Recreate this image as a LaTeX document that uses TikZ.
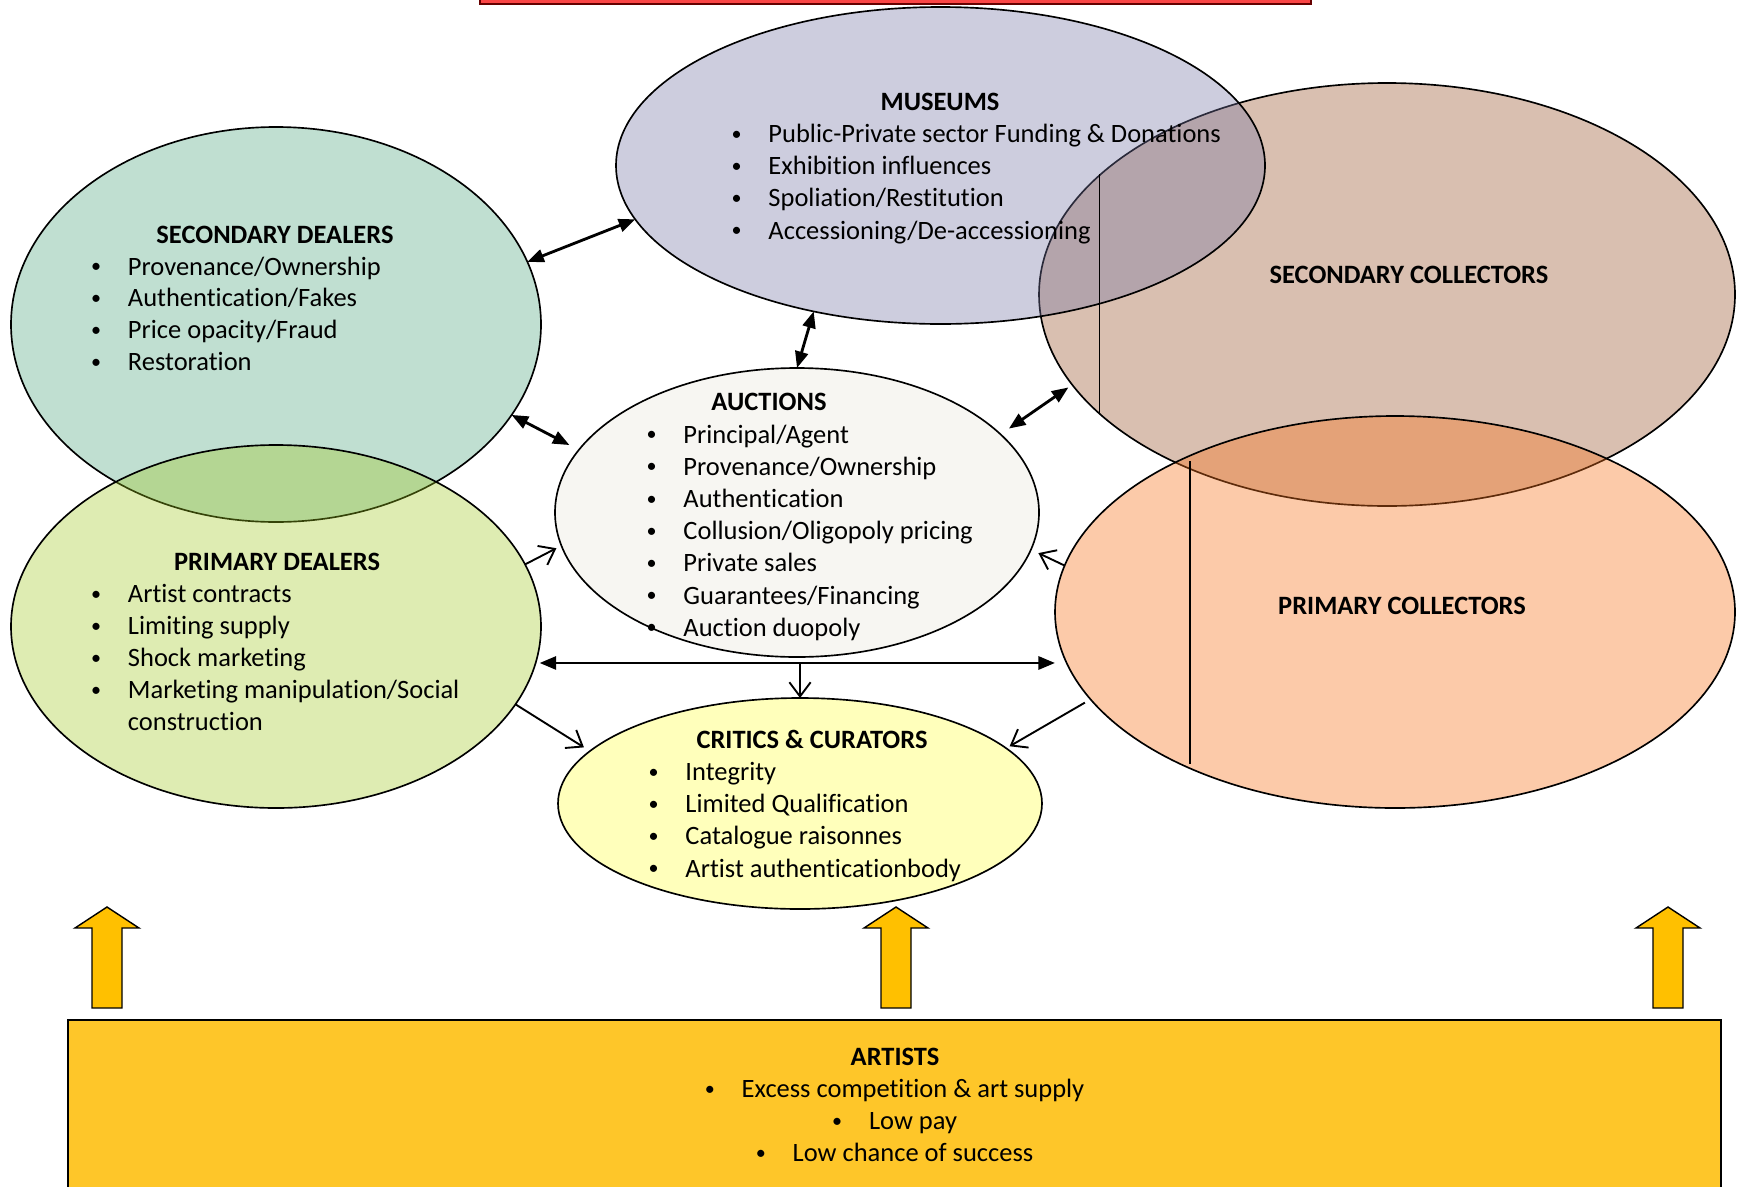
\documentclass[tikz,border=0pt]{standalone}
\usepackage{fontspec}
\setmainfont{Carlito}[Ligatures=NoCommon]
\usetikzlibrary{shapes.geometric,arrows.meta}
\definecolor{muscol}{RGB}{117,117,163}
\definecolor{scolcol}{RGB}{217,191,176}
\definecolor{pcolcol}{RGB}{247,115,29}
\definecolor{sdealcol}{RGB}{192,223,209}
\definecolor{pdealcol}{RGB}{158,199,29}
\definecolor{auccol}{RGB}{247,246,242}
\definecolor{critcol}{RGB}{255,255,187}
\definecolor{artcol}{RGB}{254,198,41}
\definecolor{upcol}{RGB}{255,192,0}
\definecolor{boxred}{RGB}{250,70,70}
\newcommand{\txtsize}{\fontsize{11.2pt}{13.6pt}\selectfont}
\newcommand{\itm}{\llap{\makebox[0pt]{\raisebox{1pt}{\fontsize{8.5pt}{8.5pt}\selectfont\textbullet}}\hspace{13.5pt}}}

\tikzset{
  oval/.style 2 args={ellipse, draw, line width=0.7pt, inner sep=0pt, outer sep=0pt,
    minimum width={#1*0.846pt}, minimum height={#2*0.846pt}},
  head/.style={anchor=base, inner sep=0pt, font=\txtsize\bfseries},
  item/.style={anchor=base west, inner sep=0pt, font=\txtsize},
  dbl/.style={{Triangle[length=7pt,width=5.5pt]}-{Triangle[length=7pt,width=5.5pt]}, line width=1.2pt},
  one/.style={-{Straight Barb[length=6pt,width=9pt]}, line width=0.8pt}
}

\begin{document}
\begin{tikzpicture}[x=0.423pt, y=-0.423pt]
\useasboundingbox (0,0) rectangle (1743,1186);

% the ovals
\node[oval={348}{211.5}, fill=scolcol] (scol) at (1387,294.5) {};
\node[oval={265}{197.5}, fill=sdealcol] (sdeal) at (276,324.5) {};
\node[oval={324.5}{158.5}, fill=muscol, fill opacity=0.36] (mus) at (940.5,165.5) {};
\node[oval={340}{196}, fill=pcolcol, fill opacity=0.38] (pcol) at (1395,612) {};
\node[oval={265}{181.5}, fill=pdealcol, fill opacity=0.34] (pdeal) at (276,626.5) {};
\node[oval={242}{144.5}, fill=auccol] (auc) at (797,512.5) {};
\node[oval={242}{105.5}, fill=critcol] (crit) at (800,803.5) {};

\draw[line width=0.8pt] (1099.5,174) -- (1099.5,413);
\draw[line width=0.8pt] (1190,461) -- (1190,764);

\node[head] (musT) at (940,110) {MUSEUMS};
\foreach \t [count=\k from 0] in {Public-Private sector Funding \& Donations, Exhibition influences, Spoliation/Restitution, Accessioning/De-accessioning}
  \node[item] (mus\k) at (768,{142.5+32.2*\k}) {\itm\t};

\node[head] (sdealT) at (275,243.3) {SECONDARY DEALERS};
\foreach \t [count=\k from 0] in {Provenance/Ownership, Authentication/Fakes, Price opacity/Fraud, Restoration}
  \node[item] (sdeal\k) at (127.5,{275+31.8*\k}) {\itm\t};

\node[head] (pdealT) at (277,570.5) {PRIMARY DEALERS};
\foreach \t [count=\k from 0] in {Artist contracts, Limiting supply, Shock marketing, Marketing manipulation/Social}
  \node[item] (pdeal\k) at (127.5,{602.5+32*\k}) {\itm\t};
\node[item] (pdeal4) at (127.5,730.5) {construction};

\node[head] (aucT) at (769,410.5) {AUCTIONS};
\foreach \t [count=\k from 0] in {Principal/Agent, Provenance/Ownership, Authentication, Collusion/Oligopoly pricing, Private sales, Guarantees/Financing, Auction duopoly}
  \node[item] (auc\k) at (683,{443+32.2*\k}) {\itm\t};

\node[head] (critT) at (812,748) {CRITICS \& CURATORS};
\foreach \t [count=\k from 0] in {Integrity, Limited Qualification, Catalogue raisonnes, Artist authenticationbody}
  \node[item] (crit\k) at (685,{780.5+32.2*\k}) {\itm\t};

\node[head] (scolT) at (1409,283.5) {SECONDARY COLLECTORS};
\node[head] (pcolT) at (1402,614.5) {PRIMARY COLLECTORS};

% artists box and the up arrows
\draw[fill=artcol, line width=1pt] (68,1020) rectangle (1721,1210);
\node[head] (artT) at (895,1065) {ARTISTS};
\foreach \t [count=\k from 0] in {Excess competition \& art supply, Low pay, Low chance of success}
  \node[anchor=base, inner sep=0pt, font=\txtsize] (art\k) at (913,{1097.5+32.2*\k}) {\itm\t};

\foreach \x in {107,896,1668}
  \draw[fill=upcol, line width=0.6pt] ({\x-15},1008) -- ({\x-15},928) -- ({\x-32},928) -- (\x,907)
    -- ({\x+32},928) -- ({\x+15},928) -- ({\x+15},1008) -- cycle;

\draw[fill=boxred, draw=red!40!black, line width=1pt] (480,-30) rectangle (1311,4);

% links
\draw[dbl] (sdeal.14) -- (mus.190);
\draw[dbl] (mus.229) -- (auc.90);
\draw[dbl, shorten >=4.5pt] (sdeal.339) -- (auc.164);
\draw[dbl, shorten <=4.3pt, shorten >=2pt] (auc.21) -- (scol.196);
\draw[dbl, shorten <=1.7pt] (pdeal.352) -- (pdeal.352 -| pcol.west);
\coordinate (hub) at (pdeal.352 -| crit.north);
\draw[one] (hub) -- (crit.north);
\draw[one, shorten >=2.4pt] (pdeal.14) -- (auc.188);
\draw[one, shorten >=3.5pt] (pcol.172) -- (auc.351);
\draw[one, shorten >=3pt] (pdeal.342) -- (crit.166);
\draw[one, shorten <=2.8pt, shorten >=1.7pt] (pcol.196) -- (crit.15);
\end{tikzpicture}
\end{document}
